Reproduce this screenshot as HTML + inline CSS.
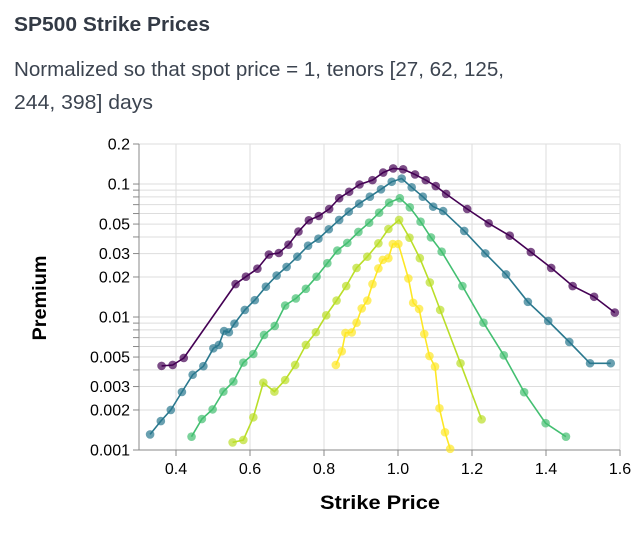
<!DOCTYPE html>
<html><head><meta charset="utf-8"><style>
html,body{margin:0;padding:0;background:#fff;}
svg{display:block;font-family:"Liberation Sans",Arial,sans-serif;}
</style></head><body>
<svg id="chart" width="642" height="539" viewBox="0 0 642 539" xmlns="http://www.w3.org/2000/svg">
<text x="14" y="31" font-size="20" font-weight="bold" fill="#333a45" textLength="196" lengthAdjust="spacingAndGlyphs">SP500 Strike Prices</text>
<text x="14" y="76" font-size="20" fill="#3c4450" textLength="490" lengthAdjust="spacingAndGlyphs">Normalized so that spot price = 1, tenors [27, 62, 125,</text>
<text x="14" y="109" font-size="20" fill="#3c4450" textLength="139" lengthAdjust="spacingAndGlyphs">244, 398] days</text>
<g id="grid"></g>
<g id="axes"></g>
<g id="marks"></g>
<text transform="translate(46,298) rotate(-90)" text-anchor="middle" font-size="19" font-weight="bold" fill="#000" textLength="85" lengthAdjust="spacingAndGlyphs">Premium</text>
<text x="380" y="509" text-anchor="middle" font-size="19" font-weight="bold" fill="#000" textLength="120" lengthAdjust="spacingAndGlyphs">Strike Price</text>
</svg>
<script>
const xTicks = [0.4, 0.6, 0.8, 1.0, 1.2, 1.4, 1.6];
const xTickLabels = ["0.4","0.6","0.8","1.0","1.2","1.4","1.6"];
const yTickLabelValues = [0.001,0.002,0.003,0.005,0.01,0.02,0.03,0.05,0.1,0.2];
const yTickLabels = ["0.001","0.002","0.003","0.005","0.01","0.02","0.03","0.05","0.1","0.2"];
const tenors = [398, 244, 125, 62, 27];
const colors = ["#440154","#2a788e","#43bf71","#bade28","#fde725"];

const s398x = [0.361,0.391,0.421,0.561,0.589,0.620,0.651,0.678,0.704,0.731,0.759,0.786,0.814,0.841,0.868,0.896,0.931,0.960,0.987,1.014,1.046,1.075,1.102,1.130,1.187,1.245,1.302,1.359,1.414,1.472,1.530,1.586];
const s398y = [0.00429,0.00436,0.00492,0.0177,0.0201,0.0231,0.0295,0.0303,0.035,0.0439,0.0534,0.0575,0.0649,0.0782,0.0875,0.0992,0.107,0.122,0.131,0.129,0.118,0.107,0.0966,0.0842,0.0649,0.0507,0.0409,0.0308,0.0234,0.0171,0.0142,0.0108];
const s244x = [0.330,0.359,0.386,0.416,0.445,0.474,0.501,0.516,0.530,0.543,0.558,0.586,0.613,0.643,0.672,0.699,0.728,0.757,0.785,0.813,0.841,0.867,0.895,0.924,0.954,0.983,1.010,1.037,1.067,1.095,1.122,1.179,1.236,1.292,1.351,1.406,1.463,1.519,1.575];
const s244y = [0.00131,0.00165,0.0020,0.00273,0.00368,0.00427,0.00582,0.00617,0.00785,0.00768,0.00892,0.0113,0.0134,0.0169,0.0205,0.0238,0.0284,0.0344,0.0388,0.0457,0.0537,0.0620,0.0711,0.0803,0.0913,0.104,0.110,0.0945,0.0803,0.0676,0.0627,0.0444,0.0301,0.0209,0.0130,0.00934,0.00649,0.00449,0.00449];
const s125x = [0.442,0.470,0.499,0.528,0.555,0.582,0.609,0.638,0.667,0.695,0.724,0.751,0.780,0.809,0.836,0.863,0.893,0.922,0.949,0.976,1.005,1.032,1.061,1.089,1.118,1.174,1.231,1.286,1.341,1.399,1.454];
const s125y = [0.00126,0.00171,0.00202,0.00275,0.00327,0.00454,0.00527,0.00733,0.00857,0.0122,0.0138,0.0163,0.0201,0.0254,0.0316,0.0361,0.0436,0.0512,0.0609,0.0724,0.0782,0.0668,0.0521,0.0397,0.0310,0.0171,0.00906,0.00515,0.00272,0.00159,0.00126];
const s62x = [0.553,0.582,0.609,0.636,0.666,0.695,0.722,0.751,0.778,0.806,0.834,0.860,0.888,0.917,0.947,0.974,1.003,1.031,1.059,1.086,1.114,1.169,1.226];
const s62y = [0.00114,0.00119,0.00176,0.00321,0.00275,0.00336,0.00436,0.00617,0.00768,0.0103,0.0133,0.0171,0.0234,0.0284,0.0358,0.0459,0.0537,0.0395,0.0277,0.0182,0.0113,0.00449,0.00170];
const s27x = [0.832,0.848,0.858,0.875,0.888,0.902,0.917,0.931,0.947,0.959,0.974,0.986,1.001,1.028,1.041,1.057,1.071,1.085,1.100,1.112,1.127,1.141];
const s27y = [0.00436,0.00552,0.00759,0.00766,0.00906,0.0116,0.0133,0.0177,0.0232,0.0269,0.0277,0.0354,0.0354,0.0195,0.0128,0.0115,0.00745,0.00509,0.00424,0.00206,0.00136,0.00102];
const seriesX = [s398x, s244x, s125x, s62x, s27x];
const seriesY = [s398y, s244y, s125y, s62y, s27y];

const NS = "http://www.w3.org/2000/svg";
const X0 = 139, X1 = 620, Y0 = 144, Y1 = 450;
const xMin = 0.3, xMax = 1.6, yMin = 0.001, yMax = 0.2;
function xs(v){ return X0 + (v - xMin) / (xMax - xMin) * (X1 - X0); }
function ys(v){ return Y1 - (Math.log10(v) - Math.log10(yMin)) / (Math.log10(yMax) - Math.log10(yMin)) * (Y1 - Y0); }
function mk(tag, attrs, parent){ const e = document.createElementNS(NS, tag); for (const k in attrs) e.setAttribute(k, attrs[k]); parent.appendChild(e); return e; }

const grid = document.getElementById('grid');
const axes = document.getElementById('axes');
const marks = document.getElementById('marks');

const yGrid = [];
for (let d = -3; d <= -1; d++) for (let m = 1; m <= 9; m++) { const v = m * Math.pow(10, d); if (v <= yMax + 1e-9) yGrid.push(v); }
yGrid.push(0.2);
yGrid.forEach(v => {
  const y = ys(v);
  const g = mk('line', {x1: X0, x2: X1, y1: y, y2: y, stroke: '#ddd', 'stroke-width': 1}, grid);
  
  
  const t = mk('line', {x1: X0 - 6, x2: X0, y1: y, y2: y, stroke: '#888', 'stroke-width': 1}, axes);
  
  
});
xTicks.forEach((v, i) => {
  const x = xs(v);
  const g = mk('line', {x1: x, x2: x, y1: Y0, y2: Y1, stroke: '#ddd', 'stroke-width': 1}, grid);
  
  
  const t = mk('line', {x1: x, x2: x, y1: Y1, y2: Y1 + 6, stroke: '#888', 'stroke-width': 1}, axes);
  
  
  const l = mk('text', {x: x, y: Y1 + 24, 'text-anchor': 'middle', 'font-size': 16, fill: '#000'}, axes);
  l.textContent = xTickLabels[i];
  
  
});
yTickLabelValues.forEach((v, i) => {
  const l = mk('text', {x: X0 - 9, y: ys(v) + 5.5, 'text-anchor': 'end', 'font-size': 16, fill: '#000'}, axes);
  l.textContent = yTickLabels[i];
  
  
});
const ya = mk('line', {x1: X0, x2: X0, y1: Y0, y2: Y1, stroke: '#888', 'stroke-width': 1}, axes);


const xa = mk('line', {x1: X0, x2: X1, y1: Y1, y2: Y1, stroke: '#888', 'stroke-width': 1}, axes);



seriesX.forEach((xv, si) => {
  const yv = seriesY[si];
  const g = mk('g', {}, marks);
  
  
  const d = xv.map((x, i) => (i ? 'L' : 'M') + xs(x).toFixed(1) + ',' + ys(yv[i]).toFixed(1)).join('');
  const p = mk('path', {d: d, fill: 'none', stroke: colors[si], 'stroke-width': 1.6}, g);
  
  
  xv.forEach((x, i) => {
    const c = mk('circle', {cx: xs(x), cy: ys(yv[i]), r: 4.3, fill: colors[si], 'fill-opacity': 0.7}, g);
    
    
  });
});
</script>
</body></html>
